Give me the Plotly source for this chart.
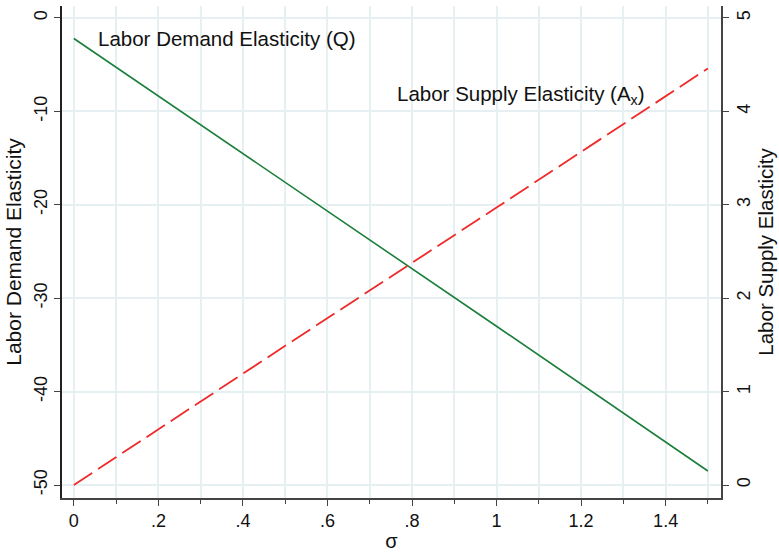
import plotly.graph_objects as go

sigma = [0.0, 0.5, 1.0, 1.5]
demand_elasticity = [-2.2, -17.6, -33.0, -48.5]
supply_elasticity = [0.0, 1.49, 2.97, 4.46]

x_ticks = [0, 0.2, 0.4, 0.6, 0.8, 1.0, 1.2, 1.4]
x_labels = ["0", ".2", ".4", ".6", ".8", "1", "1.2", "1.4"]
y_ticks = [-50, -40, -30, -20, -10, 0]
y_labels = ["-50", "-40", "-30", "-20", "-10", "0"]
y2_ticks = [0, 1, 2, 3, 4, 5]
y2_labels = ["0", "1", "2", "3", "4", "5"]

FONT = "Liberation Sans, Arial, Helvetica, sans-serif"
GRID = "#e6f0f3"
AXC = "#444444"

fig = go.Figure()
fig.add_trace(go.Scatter(x=sigma, y=demand_elasticity, mode="lines",
                         line=dict(color="#1b7f3b", width=1.6),
                         showlegend=False, yaxis="y"))
fig.add_trace(go.Scatter(x=sigma, y=supply_elasticity, mode="lines",
                         line=dict(color="#ee2a2a", width=1.8, dash="22px,7px"),
                         showlegend=False, yaxis="y2"))

fig.add_annotation(x=0.052, y=-2.2, xref="x", yref="y",
                   text="Labor Demand Elasticity (Q)", showarrow=False,
                   xanchor="left", yanchor="middle",
                   font=dict(family=FONT, size=20.5, color="#111"))
fig.add_annotation(x=0.76, y=4.17, xref="x", yref="y2",
                   text="Labor Supply Elasticity (A<sub>x</sub>)", showarrow=False,
                   xanchor="left", yanchor="middle",
                   font=dict(family=FONT, size=20.5, color="#111"))

fig.update_layout(
    width=779, height=555,
    margin=dict(l=62, r=53, t=6, b=55),
    paper_bgcolor="white", plot_bgcolor="white",
    font=dict(family=FONT, size=18, color="#111"),
    xaxis=dict(range=[-0.028, 1.531], tickvals=x_ticks, ticktext=x_labels,
               showgrid=True, gridcolor=GRID, gridwidth=1.5,
               ticks="outside", ticklen=6, tickcolor=AXC,
               showline=True, linecolor=AXC, linewidth=1.5, zeroline=False,
               minor=dict(dtick=0.1, tick0=0, ticks="outside", ticklen=4,
                          tickcolor=AXC, showgrid=True, gridcolor=GRID, gridwidth=1.5),
               title=dict(text="σ", font=dict(size=20), standoff=4),
               tickfont=dict(size=18)),
    yaxis=dict(range=[-51.39, 1.28], tickvals=y_ticks, ticktext=y_labels,
               showgrid=True, gridcolor=GRID, gridwidth=1.5,
               ticks="outside", ticklen=6, tickcolor=AXC,
               showline=True, linecolor="#222", linewidth=1.5, zeroline=False,
               tickangle=-90, tickfont=dict(size=18),
               title=dict(text="Labor Demand Elasticity", font=dict(size=21), standoff=4)),
    yaxis2=dict(range=[-0.139, 5.128], tickvals=y2_ticks, ticktext=y2_labels,
                overlaying="y", side="right",
                showgrid=False, ticks="outside", ticklen=6, tickcolor=AXC,
                showline=True, linecolor=AXC, linewidth=1.5, zeroline=False,
                tickangle=-90, tickfont=dict(size=18),
                title=dict(text="Labor Supply Elasticity", font=dict(size=20.5), standoff=4)),
)

fig.write_html("out.html", config={"displayModeBar": False},
               post_script="document.body.style.margin='0';")
